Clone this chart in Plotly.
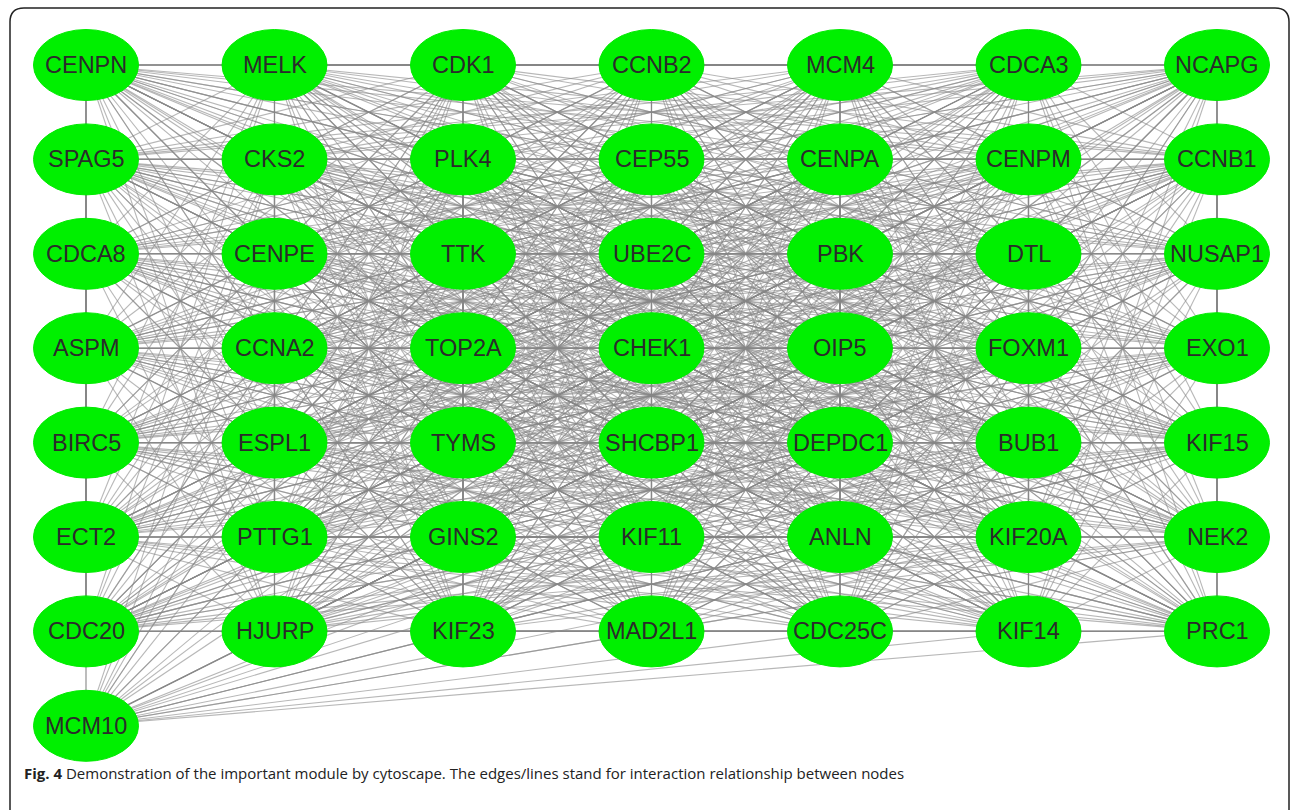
import plotly.graph_objects as go

# Hub-gene module, laid out on a grid (one list per grid row)
ROWS = [
    ["CENPN", "MELK", "CDK1", "CCNB2", "MCM4", "CDCA3", "NCAPG"],
    ["SPAG5", "CKS2", "PLK4", "CEP55", "CENPA", "CENPM", "CCNB1"],
    ["CDCA8", "CENPE", "TTK", "UBE2C", "PBK", "DTL", "NUSAP1"],
    ["ASPM", "CCNA2", "TOP2A", "CHEK1", "OIP5", "FOXM1", "EXO1"],
    ["BIRC5", "ESPL1", "TYMS", "SHCBP1", "DEPDC1", "BUB1", "KIF15"],
    ["ECT2", "PTTG1", "GINS2", "KIF11", "ANLN", "KIF20A", "NEK2"],
    ["CDC20", "HJURP", "KIF23", "MAD2L1", "CDC25C", "KIF14", "PRC1"],
    ["MCM10"],
]

# The 49 core genes interact with every other core gene
CORE_GENES = [g for row in ROWS[:7] for g in row]

# Interaction partners of MCM10
MCM10_PARTNERS = [
    "CDC20", "HJURP", "KIF23", "MAD2L1", "CDC25C", "KIF14", "PRC1",
    "PTTG1", "GINS2", "KIF11", "ANLN", "KIF20A", "NEK2",
    "ESPL1", "TYMS", "SHCBP1", "DEPDC1", "BUB1", "KIF15",
    "CCNA2", "TOP2A", "CHEK1", "OIP5", "FOXM1",
    "CENPE", "TTK", "UBE2C", "CKS2", "PLK4", "CDK1", "CCNB1", "BIRC5",
]

CAPTION_LABEL = "Fig. 4"
CAPTION_TEXT = ("Demonstration of the important module by cytoscape. "
                "The edges/lines stand for interaction relationship between nodes")

# grid position of every gene (column, row)
pos = {}
for r, row in enumerate(ROWS):
    for c, gene in enumerate(row):
        pos[gene] = (c, r)

edges = []
for i, a in enumerate(CORE_GENES):
    for b in CORE_GENES[i + 1:]:
        edges.append((a, b))
for b in MCM10_PARTNERS:
    edges.append(("MCM10", b))

ex, ey = [], []
for a, b in edges:
    ex += [pos[a][0], pos[b][0], None]
    ey += [pos[a][1], pos[b][1], None]

W, H = 1292, 810
COL_PX, ROW_PX = 188.5, 94.4     # grid spacing in pixels
X0_PX, Y0_PX = 86, 65            # pixel centre of the first node

fig = go.Figure()
fig.add_trace(go.Scatter(
    x=ex, y=ey, mode="lines",
    line=dict(color="rgba(135,135,135,0.6)", width=1.1),
    hoverinfo="skip", showlegend=False,
))

# node ellipses with their gene labels
RX = 52.5 / COL_PX
RY = 35.5 / ROW_PX
for gene, (c, r) in pos.items():
    fig.add_shape(type="circle", xref="x", yref="y",
                  x0=c - RX, x1=c + RX, y0=r - RY, y1=r + RY,
                  fillcolor="rgb(0,240,0)", line=dict(color="rgb(0,235,0)", width=1),
                  layer="above")
    fig.add_annotation(x=c, y=r, xref="x", yref="y", text=gene, showarrow=False,
                       xanchor="center", yanchor="middle",
                       font=dict(family="Liberation Sans, Arial, sans-serif",
                                 size=23.5, color="#2b2b2b"))

# rounded frame around the figure (pixel-based overlay axes)
R = 14
L, T, Rt, B = 10, 8, 1289, 840
frame = (f"M {L+R},{T} L {Rt-R},{T} Q {Rt},{T} {Rt},{T+R} L {Rt},{B-R} "
         f"Q {Rt},{B} {Rt-R},{B} L {L+R},{B} Q {L},{B} {L},{B-R} "
         f"L {L},{T+R} Q {L},{T} {L+R},{T} Z")
fig.add_shape(type="path", path=frame, xref="x2", yref="y2",
              line=dict(color="#222222", width=1.5), layer="above")

fig.add_annotation(
    x=22, y=773, xref="x2", yref="y2", xanchor="left", yanchor="middle",
    text=f"<b>{CAPTION_LABEL}</b> {CAPTION_TEXT}", showarrow=False,
    font=dict(family="Open Sans, Noto Sans, sans-serif", size=15, color="#222222"),
)

fig.update_layout(
    width=W, height=H, margin=dict(l=0, r=0, t=0, b=0),
    paper_bgcolor="white", plot_bgcolor="white",
    xaxis=dict(range=[-X0_PX / COL_PX, (W - X0_PX) / COL_PX], visible=False, fixedrange=True),
    yaxis=dict(range=[(H - Y0_PX) / ROW_PX, -Y0_PX / ROW_PX], visible=False, fixedrange=True),
    xaxis2=dict(range=[0, W], visible=False, overlaying="x", fixedrange=True),
    yaxis2=dict(range=[H, 0], visible=False, overlaying="y", fixedrange=True),
)

fig.write_html("out.html")
